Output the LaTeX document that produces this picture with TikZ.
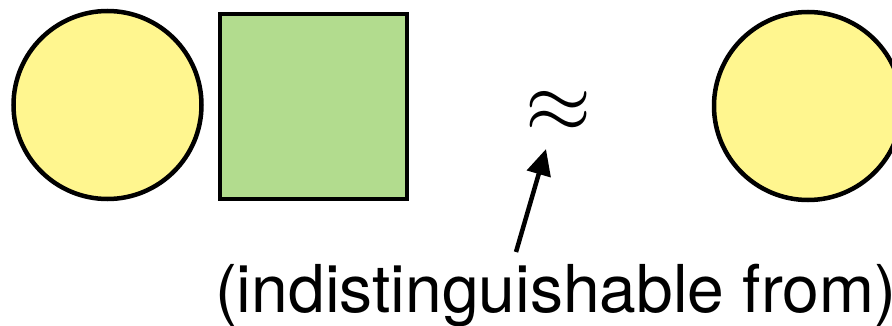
\documentclass[tikz,border=0pt]{standalone}
\usepackage{graphicx}
\usepackage{fontspec}
\setmainfont{TeX Gyre Heros}
\definecolor{cyel}{RGB}{255,246,143}
\definecolor{cgrn}{RGB}{178,220,142}
\usetikzlibrary{arrows.meta}
\begin{document}
\begin{tikzpicture}[x=1pt,y=-1pt,
  shp/.style={draw=black,line width=4.5pt,inner sep=0pt,outer sep=0pt},
  circ/.style={shp,circle,fill=cyel,minimum size=188pt},
  sq/.style={shp,rectangle,fill=cgrn,minimum width=187pt,minimum height=185pt},
  lbl/.style={font=\fontsize{66}{76}\selectfont,inner sep=0pt,outer sep=0pt},
  sym/.style={font=\fontsize{10}{12}\selectfont,inner sep=0pt,outer sep=0pt}]
\useasboundingbox (0,0) rectangle (892,326);
\clip (0,0) rectangle (892,326);
\node[circ] (c1) at (107.5,105) {};
\node[sq] (s1) at (313.5,106.5) {};
\node[circ] (c2) at (808,106) {};
\node[sym] (ap) at (559,111.5) {\scalebox{8.5}{$\approx$}};
\node[lbl,anchor=base west] (txt) at (215,312) {(indistinguishable from)};
\coordinate (tail) at (516,252);
\coordinate (tip) at (546,149);
\draw[line width=4.5pt,-{Triangle[length=26pt,width=24pt]}] (tail) -- (tip);
\end{tikzpicture}
\end{document}
